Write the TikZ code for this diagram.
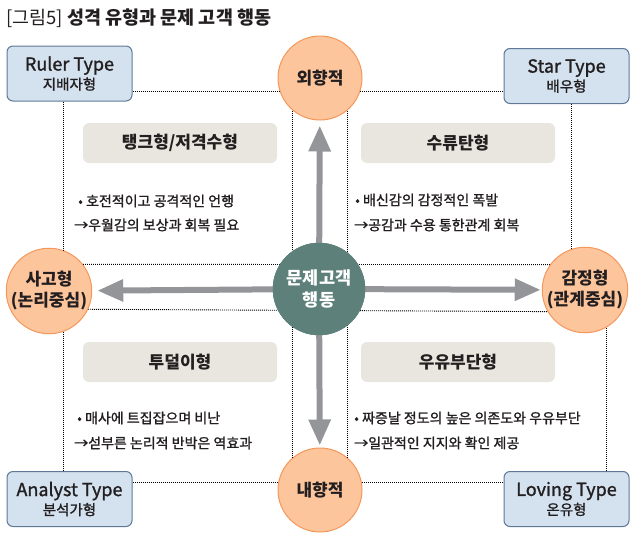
\documentclass[tikz,border=0pt]{standalone}
\usepackage{fontspec}
\setmainfont{Noto Sans CJK KR}
\newfontfamily\medfont[FakeBold=1.3]{Noto Sans CJK KR}
\usetikzlibrary{arrows.meta}
\definecolor{textc}{HTML}{231F20}
\definecolor{ofill}{HTML}{FDC59C}
\definecolor{oline}{HTML}{F4975A}
\definecolor{teal}{HTML}{5E807A}
\definecolor{bfill}{HTML}{D4E2F0}
\definecolor{bline}{HTML}{5F7896}
\definecolor{qgray}{HTML}{E8E6DF}
\definecolor{agray}{HTML}{949599}
\tikzset{
  dotline/.style={draw=black, line width=0.9pt, dash pattern=on 0.9pt off 1.1pt},
  ocirc/.style={circle, fill=ofill, draw=oline, line width=1pt, minimum size=84pt, inner sep=0pt, align=center, text=textc, font=\bfseries\fontsize{17}{21}\selectfont},
  ccirc/.style={circle, fill=teal, draw=teal, minimum size=92pt, inner sep=0pt, align=center, text=white, font=\bfseries\fontsize{17.5}{22}\selectfont},
  tbox/.style={rectangle, rounded corners=6pt, fill=bfill, draw=bline, line width=1pt, minimum width=125pt, minimum height=55pt, inner sep=0pt, align=center, text=textc, font=\medfont\fontsize{14.5}{19}\selectfont},
  qbox/.style={rectangle, rounded corners=6pt, fill=qgray, minimum width=194pt, minimum height=40pt, inner sep=0pt, text=textc, font=\bfseries\fontsize{17}{18}\selectfont},
  body/.style={anchor=west, inner sep=0pt, text=textc, font=\medfont\fontsize{14}{15}\selectfont},
  arr/.style={draw=agray, line width=6pt, -{Triangle[length=26pt,width=21pt]}},
}
\newcommand{\latn}[1]{{\fontsize{18}{19}\selectfont #1}}
\begin{document}
\begin{tikzpicture}[x=1pt,y=-1pt]
\useasboundingbox (0,0) rectangle (640,541);
% title
\node[anchor=west, inner sep=0pt, text=textc, font=\fontsize{18.5}{20}\selectfont] (title) at (6,18) {[그림5] {\bfseries 성격 유형과 문제 고객 행동}};
% nodes
\node[ocirc] (ext) at (320,78) {외향적};
\node[ocirc] (intro) at (320,490) {내향적};
\node[ocirc] (think) at (49,291) {사고형\\(논리중심)};
\node[ocirc] (emo) at (585,290) {감정형\\(관계중심)};
\node[tbox] (ruler) at (69.5,73.5) {\latn{Ruler Type}\\지배자형};
\node[tbox] (star) at (566.5,76) {\latn{Star Type}\\배우형};
\node[tbox] (analyst) at (69.5,499) {\latn{Analyst Type}\\분석가형};
\node[tbox] (loving) at (566.5,499) {\latn{Loving Type}\\온유형};
% dotted frame
\draw[dotline] (ext.198 -| ruler.east) -- (ext.198);
\draw[dotline] (ext.-18) -- (ext.-18 -| star.west);
\draw[dotline] (intro.170 -| analyst.east) -- (intro.170);
\draw[dotline] (intro.10) -- (intro.10 -| loving.west);
\draw[dotline] (think.70 |- ruler.south) -- (think.70);
\draw[dotline] (think.-70) -- (think.-70 |- analyst.north);
\draw[dotline] (emo.108 |- star.south) -- (emo.108);
\draw[dotline] (emo.-61) -- (emo.-61 |- loving.north);
\draw[dotline] (ext.-130) -- (intro.130);
\draw[dotline] (ext.-50) -- (intro.50);
\draw[dotline] (think.38) -- (emo.144);
\draw[dotline] (think.-25) -- (emo.-150);
% center
\node[ccirc] (core) at (319,289) {};
\draw[arr, shorten >=5pt] (core) -- (ext);
\draw[arr, shorten >=2pt] (core) -- (intro);
\draw[arr, shorten >=5pt] (core) -- (think);
\draw[arr, shorten >=1pt] (core) -- (emo);
\node[ccirc] (corefg) at (core) {문제고객\\행동};
% quadrant titles
\node[qbox] (qtl) at (180,143) {탱크형/저격수형};
\node[qbox] (qtr) at (458,143) {수류탄형};
\node[qbox] (qbl) at (180,362) {투덜이형};
\node[qbox] (qbr) at (458,362) {우유부단형};
% body text
\node[body] (tl1) at (78,201) {• 호전적이고 공격적인 언행};
\node[body] (tl2) at (74,225) {→우월감의 보상과 회복 필요};
\node[body] (tr1) at (355,200) {• 배신감의 감정적인 폭발};
\node[body] (tr2) at (354,225) {→공감과 수용 통한관계 회복};
\node[body] (bl1) at (77,418) {• 매사에 트집잡으며 비난};
\node[body] (bl2) at (74,443) {→섣부른 논리적 반박은 역효과};
\node[body] (br1) at (354,418) {• 짜증날 정도의 높은 의존도와 우유부단};
\node[body] (br2) at (354,443) {→일관적인 지지와 확인 제공};
\end{tikzpicture}
\end{document}
